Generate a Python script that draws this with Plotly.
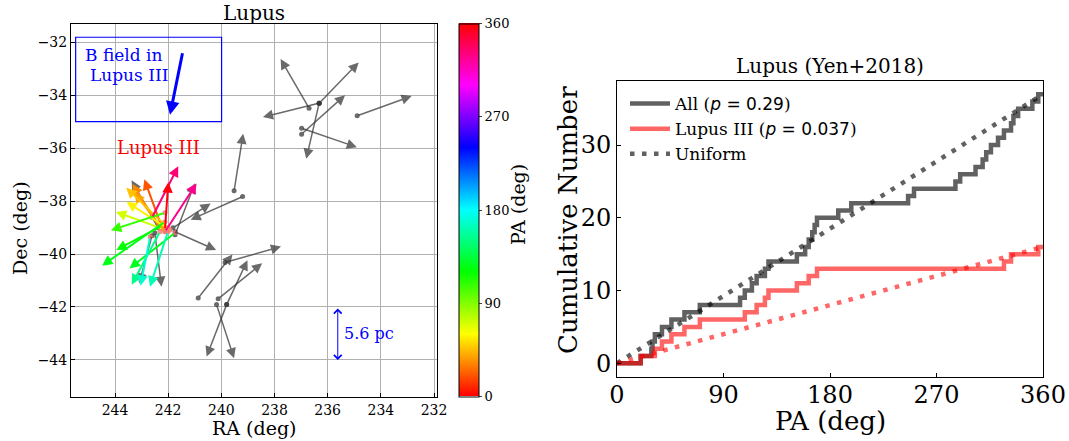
import colorsys
import numpy as np
import plotly.graph_objects as go

# ---------------- data ----------------
# Lupus III sources: position (deg), position angle (deg), arrow length (deg)
lup3_ra = [242.23, 242.31, 242.12, 242.01, 241.93, 242.20, 242.12, 242.23,
           242.12, 241.74, 242.31, 242.01, 242.68, 242.12, 242.61, 242.12]
lup3_dec = [-39.01, -39.01, -39.16, -39.01, -39.09, -39.05, -38.44, -38.93,
            -38.78, -39.20, -39.16, -39.16, -39.35, -39.16, -38.63, -39.08]
lup3_pa = [20, 32, 38, 46, 57, 70, 108, 118, 125, 128, 152, 162, 169, 327, 333, 356]
lup3_len = [1.95, 1.95, 1.88, 2.18, 1.95, 1.88, 2.14, 1.95,
            2.89, 2.18, 2.26, 2.18, 1.88, 2.18, 2.18, 1.80]

# Other Lupus sources
other_ra = [242.38, 241.74, 241.82, 241.74, 242.61, 242.50, 236.70, 236.32,
            236.32, 236.32, 236.98, 236.98, 234.89, 239.52, 239.20, 240.87,
            239.86, 240.12, 239.80, 240.18, 239.80]
other_dec = [-39.01, -39.27, -39.01, -39.16, -39.31, -39.20, -34.49, -34.30,
             -34.30, -34.30, -35.25, -35.47, -34.78, -37.61, -37.83, -41.66,
             -40.32, -41.69, -41.91, -41.91, -41.91]
other_pa = [29, 339, 303, 246, 165, 187, 30, 316, 167, 104, 251, 312, 290,
            351, 114, 322, 286, 309, 335, 198, 159]
other_len = [2.05, 2.08, 1.69, 1.69, 1.86, 2.05, 2.14, 2.14, 2.16, 2.18, 2.20,
             2.20, 2.18, 2.18, 2.14, 2.09, 2.19, 2.13, 1.85, 2.13, 2.10]

# Mean magnetic field direction in Lupus III
bfield_ra, bfield_dec, bfield_pa, bfield_len = 241.45, -32.36, 168.6, 2.43

p_all = 0.29
p_lup3 = 0.037

ra_ticks = [244, 242, 240, 238, 236, 234, 232]
dec_ticks = [-32, -34, -36, -38, -40, -42, -44]
pa_ticks = [0, 90, 180, 270, 360]
cum_ticks = [0, 10, 20, 30]

SERIF = "DejaVu Serif"
SANS = "DejaVu Sans"
W, H = 1069, 441


def hsv_color(pa):
    r, g, b = colorsys.hsv_to_rgb((pa % 360) / 360.0, 1.0, 1.0)
    return f"rgb({int(r * 255)},{int(g * 255)},{int(b * 255)})"


hsv_scale = [[0, "rgb(255,0,0)"], [1 / 6, "rgb(255,255,0)"], [2 / 6, "rgb(0,255,0)"],
             [3 / 6, "rgb(0,255,255)"], [4 / 6, "rgb(0,0,255)"],
             [5 / 6, "rgb(255,0,255)"], [1, "rgb(255,0,0)"]]

fig = go.Figure()
annotations = []


def add_arrow(ra, dec, pa, length, color, width, size, head=2, xr="x", yr="y"):
    t = np.deg2rad(pa)
    tip_ra = ra + length * np.sin(t)   # east = increasing RA
    tip_dec = dec + length * np.cos(t)
    annotations.append(dict(
        x=tip_ra, y=tip_dec, ax=ra, ay=dec, xref=xr, yref=yr, axref=xr, ayref=yr,
        text="", showarrow=True, arrowhead=head, arrowsize=size,
        arrowwidth=width, arrowcolor=color, standoff=0, startstandoff=0))


def label(px, py, text, size, color="black", angle=0, xanchor="center"):
    annotations.append(dict(x=px / W, y=1 - py / H, xref="paper", yref="paper",
                            text=text, showarrow=False, textangle=angle,
                            xanchor=xanchor, yanchor="middle",
                            font=dict(family=SERIF, size=size, color=color)))


# ---------------- left panel: outflow / disk directions ----------------
GRAY = "rgba(50,50,50,0.72)"
fig.add_trace(go.Scatter(x=other_ra, y=other_dec, mode="markers",
                         marker=dict(size=5, color=GRAY), showlegend=False,
                         hoverinfo="skip", xaxis="x", yaxis="y"))
fig.add_trace(go.Scatter(x=lup3_ra, y=lup3_dec, mode="markers",
                         marker=dict(size=5, color="rgba(245,120,110,0.8)"),
                         showlegend=False, hoverinfo="skip", xaxis="x", yaxis="y"))
# colour scale for position angle
fig.add_trace(go.Scatter(
    x=[None], y=[None], mode="markers", showlegend=False, hoverinfo="skip",
    xaxis="x", yaxis="y",
    marker=dict(color=[0], cmin=0, cmax=360, colorscale=hsv_scale, showscale=True,
                colorbar=dict(x=459.3 / W, xanchor="left", y=1 - 210 / H,
                              yanchor="middle", len=373.4 / H, lenmode="fraction",
                              thickness=20, thicknessmode="pixels", xpad=0, ypad=0,
                              outlinewidth=1, outlinecolor="black",
                              tickvals=pa_ticks, ticks="outside", ticklen=3,
                              tickfont=dict(family=SERIF, size=13, color="black")))))

for ra, dec, pa, ln in zip(other_ra, other_dec, other_pa, other_len):
    add_arrow(ra, dec, pa, ln, GRAY, 1.5, 1.35)
for ra, dec, pa, ln in zip(lup3_ra, lup3_dec, lup3_pa, lup3_len):
    add_arrow(ra, dec, pa, ln, hsv_color(pa), 2.0, 1.05)

# B-field inset
fig.add_shape(type="rect", x0=245.48, x1=239.99, y0=-35.0, y1=-31.81,
              xref="x", yref="y", line=dict(color="blue", width=1.2))
add_arrow(bfield_ra, bfield_dec, bfield_pa, bfield_len, "blue", 3, 0.9)
annotations.append(dict(x=243.68, y=-32.50, xref="x", yref="y", text="B field in",
                        showarrow=False, font=dict(family=SERIF, size=17, color="blue")))
annotations.append(dict(x=243.49, y=-33.22, xref="x", yref="y", text="Lupus III",
                        showarrow=False, font=dict(family=SERIF, size=17, color="blue")))
annotations.append(dict(x=242.37, y=-35.97, xref="x", yref="y", text="Lupus III",
                        showarrow=False, font=dict(family=SERIF, size=18, color="red")))

# 5.6 pc scale bar
annotations.append(dict(x=235.62, y=-44.0, ax=235.62, ay=-42.0, xref="x", yref="y",
                        axref="x", ayref="y", text="", showarrow=True, arrowhead=4,
                        arrowside="end+start", arrowsize=1.5, arrowwidth=1,
                        arrowcolor="blue", standoff=0, startstandoff=0))
annotations.append(dict(x=235.47, y=-42.99, xref="x", yref="y", text="5.6 pc",
                        xanchor="left", showarrow=False,
                        font=dict(family=SERIF, size=16, color="blue")))

# ---------------- right panel: cumulative PA distributions ----------------
def cumulative(pas):
    s = np.sort(np.asarray(pas, dtype=float))
    n = len(s)
    xs = np.concatenate([[0.0], s, [360.0]])
    ys = np.concatenate([[0], np.arange(1, n + 1), [n]])
    return xs, ys


all_pa = list(other_pa) + list(lup3_pa)
xa, ya = cumulative(all_pa)
xl, yl = cumulative(lup3_pa)
n_all, n_l3 = len(all_pa), len(lup3_pa)

C_ALL = "rgba(0,0,0,0.62)"
C_L3 = "rgba(255,0,0,0.6)"
LW = 4.5
DOTS = "4.5px,7.5px"

fig.add_trace(go.Scatter(x=xa, y=ya, mode="lines", line=dict(color=C_ALL, width=LW, shape="hv"),
                         name=f"All (<span style='font-family:{SANS}'><i>p</i> = {p_all}</span>)",
                         xaxis="x2", yaxis="y2", hoverinfo="skip"))
fig.add_trace(go.Scatter(x=xl, y=yl, mode="lines", line=dict(color=C_L3, width=LW, shape="hv"),
                         name=f"Lupus III (<span style='font-family:{SANS}'><i>p</i> = {p_lup3}</span>)",
                         xaxis="x2", yaxis="y2", hoverinfo="skip"))
fig.add_trace(go.Scatter(x=[0, 360], y=[0, n_all], mode="lines",
                         line=dict(color=C_ALL, width=LW, dash=DOTS), name="Uniform",
                         xaxis="x2", yaxis="y2", hoverinfo="skip"))
fig.add_trace(go.Scatter(x=[0, 360], y=[0, n_l3], mode="lines",
                         line=dict(color=C_L3, width=LW, dash=DOTS), showlegend=False,
                         xaxis="x2", yaxis="y2", hoverinfo="skip"))

# titles and axis labels
label(254, 13, "Lupus", 20)
label(254, 428, "RA (deg)", 19)
label(20, 228, "Dec (deg)", 19, angle=-90)
label(518, 205, "PA (deg)", 19, angle=-90)
label(830, 66, "Lupus (Yen+2018)", 20)
label(830, 421, "PA (deg)", 26)
label(568, 220, "Cumulative Number", 26, angle=-90)

axis_common = dict(showline=True, mirror=True, linecolor="black", linewidth=1,
                   ticks="inside", ticklen=4, tickcolor="black", zeroline=False,
                   automargin=False)

fig.update_layout(
    width=W, height=H, margin=dict(l=0, r=0, t=0, b=0, autoexpand=False),
    paper_bgcolor="white", plot_bgcolor="white",
    font=dict(family=SERIF, color="black"),
    xaxis=dict(domain=[71 / W, 437 / W], range=[245.655, 231.887],
               tickvals=ra_ticks, showgrid=True, gridcolor="#b0b0b0", gridwidth=1,
               tickfont=dict(size=14), anchor="y", **axis_common),
    yaxis=dict(domain=[1 - 397 / H, 1 - 24 / H], range=[-45.40, -31.31],
               tickvals=dec_ticks, showgrid=True, gridcolor="#b0b0b0", gridwidth=1,
               tickfont=dict(size=14), anchor="x", **axis_common),
    xaxis2=dict(domain=[617 / W, 1043 / W], range=[0, 360], tickvals=pa_ticks,
                showgrid=False, tickfont=dict(size=24), anchor="y2",
                ticklabelstandoff=-4, **axis_common),
    yaxis2=dict(domain=[1 - 376.7 / H, 1 - 80.7 / H], range=[-1.85, 38.85],
                tickvals=cum_ticks, showgrid=False, tickfont=dict(size=24), anchor="x2",
                **axis_common),
    legend=dict(x=625 / W, y=1 - 86 / H, xanchor="left", yanchor="top",
                bgcolor="rgba(0,0,0,0)", font=dict(family=SERIF, size=17),
                itemwidth=40, tracegroupgap=0),
    annotations=annotations,
)

fig.write_html("out.html")
